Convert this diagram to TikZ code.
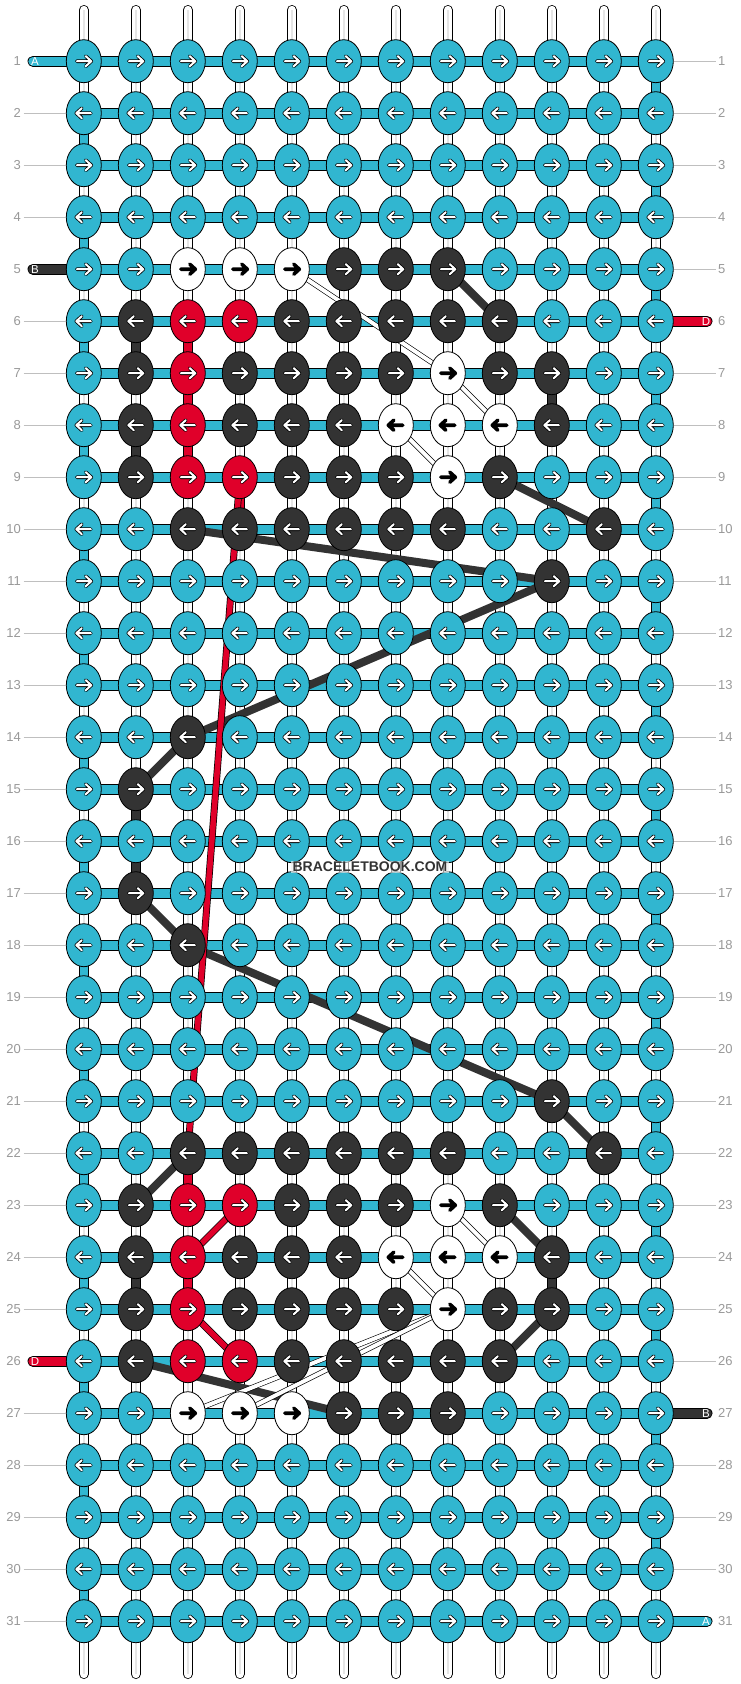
\documentclass[tikz,border=0pt]{standalone}
\usepackage{fontspec}
\setmainfont{Liberation Sans}
\usetikzlibrary{shapes.geometric}

\definecolor{bl}{HTML}{31B6D0}
\definecolor{dk}{HTML}{333333}
\definecolor{rd}{HTML}{E0002A}
\colorlet{wh}{white}
\colorlet{ar-bl}{white}
\colorlet{ar-dk}{white}
\colorlet{ar-rd}{white}
\colorlet{ar-wh}{black}
\definecolor{numgray}{HTML}{999999}

\begin{document}
\begin{tikzpicture}[x=1pt, y=-1pt,
  knot/.style={ellipse, draw, line width=0.8pt, minimum width=35pt, minimum height=43pt, inner sep=0pt},
  thread/.style={line width=0.8pt, double=#1, double distance=8.4pt, line cap=round},
  band/.style={line width=0.8pt, double=#1, double distance=9.4pt, line cap=round},
  blackstring/.style={line width=8pt, dk},
  redstring/.style={line width=0.7pt, double=rd, double distance=5.6pt},
  whitestring/.style={line width=0.6pt, double=white, double distance=4pt},
  num/.style={font=\fontsize{13}{13}\selectfont, text=numgray, inner sep=2.5pt},
  numline/.style={draw=black!25, line width=0.8pt},
  letter/.style={font=\fontsize{11.5}{11.5}\selectfont, text=white, inner sep=0pt},
  arr/.pic={
    \draw[line width=3.6pt, line cap=round, line join=round] (-7,0) -- (7.5,0) (2,-5) -- (7.5,0) -- (2,5);
    \draw[line width=2pt, line cap=round, line join=round, ar-#1] (-7,0) -- (7.5,0) (2,-5) -- (7.5,0) -- (2,5);
  }
]
\useasboundingbox[fill=white] (0,0) rectangle (740,1684);

\foreach \r in {1,...,31}
  \foreach \c in {1,...,12}
    \coordinate (p-\r-\c) at ({31.8+52*\c},{9.2+52*\r});

\foreach \c in {1,...,12} {
  \coordinate (top-\c) at ({31.8+52*\c},10);
  \coordinate (bot-\c) at ({31.8+52*\c},1674);
  \draw[thread=white] (top-\c) -- (bot-\c);
  \draw[line width=1.6pt, black!10] (top-\c) -- (bot-\c);
}

\foreach \r [evaluate=\r as \n using int(\r+1)] in {1,3,...,29}
  \draw[thread=bl] (p-\r-12) -- (p-\n-12);
\foreach \r [evaluate=\r as \n using int(\r+1)] in {2,4,...,30}
  \draw[thread=bl] (p-\r-1) -- (p-\n-1);

\foreach \r/\c/\s [evaluate=\r as \n using int(\r+1)] in {6/2/dk, 8/2/dk, 7/10/dk, 15/2/dk, 16/2/dk, 24/2/dk, 24/10/dk,
    6/3/rd, 7/3/rd, 8/3/rd, 9/4/rd, 22/3/rd, 24/3/rd}
  \draw[thread=\s] (p-\r-\c) -- (p-\n-\c);

\foreach \r in {1,...,31}
  \draw[band=bl] (p-\r-1) -- (p-\r-12);

\foreach \r/\s in {1/bl, 5/dk, 26/rd} {
  \coordinate (sl-\r) at (33,{9.2+52*\r});
  \draw[band=\s] (sl-\r) -- (p-\r-1);
}
\foreach \r/\s in {6/rd, 27/dk, 31/bl} {
  \coordinate (sr-\r) at (707,{9.2+52*\r});
  \draw[band=\s] (p-\r-12) -- (sr-\r);
}

\foreach \a/\b in {5-8/6-9, 9-9/10-11, 10-3/11-10, 11-10/14-3, 14-3/15-2, 17-2/18-3, 18-3/21-10,
    21-10/22-11, 22-3/23-2, 23-9/24-10, 25-10/26-9, 26-2/27-6}
  \draw[blackstring] (p-\a) -- (p-\b);
\foreach \a/\b in {9-4/22-3, 23-4/24-3, 25-3/26-4}
  \draw[redstring] (p-\a) -- (p-\b);
\foreach \a/\b in {5-5/7-8, 7-8/8-9, 8-7/9-8, 23-8/24-9, 24-7/25-8, 27-3/25-8, 27-4/25-8}
  \draw[whitestring] (p-\a) -- (p-\b);

\foreach \r/\cols in {
  1/{bl,bl,bl,bl,bl,bl,bl,bl,bl,bl,bl,bl},
  2/{bl,bl,bl,bl,bl,bl,bl,bl,bl,bl,bl,bl},
  3/{bl,bl,bl,bl,bl,bl,bl,bl,bl,bl,bl,bl},
  4/{bl,bl,bl,bl,bl,bl,bl,bl,bl,bl,bl,bl},
  5/{bl,bl,wh,wh,wh,dk,dk,dk,bl,bl,bl,bl},
  6/{bl,dk,rd,rd,dk,dk,dk,dk,dk,bl,bl,bl},
  7/{bl,dk,rd,dk,dk,dk,dk,wh,dk,dk,bl,bl},
  8/{bl,dk,rd,dk,dk,dk,wh,wh,wh,dk,bl,bl},
  9/{bl,dk,rd,rd,dk,dk,dk,wh,dk,bl,bl,bl},
  10/{bl,bl,dk,dk,dk,dk,dk,dk,bl,bl,dk,bl},
  11/{bl,bl,bl,bl,bl,bl,bl,bl,bl,dk,bl,bl},
  12/{bl,bl,bl,bl,bl,bl,bl,bl,bl,bl,bl,bl},
  13/{bl,bl,bl,bl,bl,bl,bl,bl,bl,bl,bl,bl},
  14/{bl,bl,dk,bl,bl,bl,bl,bl,bl,bl,bl,bl},
  15/{bl,dk,bl,bl,bl,bl,bl,bl,bl,bl,bl,bl},
  16/{bl,bl,bl,bl,bl,bl,bl,bl,bl,bl,bl,bl},
  17/{bl,dk,bl,bl,bl,bl,bl,bl,bl,bl,bl,bl},
  18/{bl,bl,dk,bl,bl,bl,bl,bl,bl,bl,bl,bl},
  19/{bl,bl,bl,bl,bl,bl,bl,bl,bl,bl,bl,bl},
  20/{bl,bl,bl,bl,bl,bl,bl,bl,bl,bl,bl,bl},
  21/{bl,bl,bl,bl,bl,bl,bl,bl,bl,dk,bl,bl},
  22/{bl,bl,dk,dk,dk,dk,dk,dk,bl,bl,dk,bl},
  23/{bl,dk,rd,rd,dk,dk,dk,wh,dk,bl,bl,bl},
  24/{bl,dk,rd,dk,dk,dk,wh,wh,wh,dk,bl,bl},
  25/{bl,dk,rd,dk,dk,dk,dk,wh,dk,dk,bl,bl},
  26/{bl,dk,rd,rd,dk,dk,dk,dk,dk,bl,bl,bl},
  27/{bl,bl,wh,wh,wh,dk,dk,dk,bl,bl,bl,bl},
  28/{bl,bl,bl,bl,bl,bl,bl,bl,bl,bl,bl,bl},
  29/{bl,bl,bl,bl,bl,bl,bl,bl,bl,bl,bl,bl},
  30/{bl,bl,bl,bl,bl,bl,bl,bl,bl,bl,bl,bl},
  31/{bl,bl,bl,bl,bl,bl,bl,bl,bl,bl,bl,bl}} {
  \pgfmathtruncatemacro\dir{1-2*mod(\r+1,2)}
  \foreach \k [count=\c] in \cols {
    \node[knot, fill=\k] (k-\r-\c) at (p-\r-\c) {};
    \pic[xscale=\dir] at (p-\r-\c) {arr=\k};
  }
}

\foreach \r in {1,...,31} {
  \node[num, anchor=east] (nl-\r) at (23.5,{9.2+52*\r}) {\r};
  \node[num, anchor=west] (nr-\r) at (715.5,{9.2+52*\r}) {\r};
}
\foreach \r in {2,3,4,6,7,...,25,27,28,...,31}
  \draw[numline] (nl-\r) -- (k-\r-1);
\foreach \r in {1,2,...,5,7,8,...,26,28,29,30}
  \draw[numline] (k-\r-12) -- (nr-\r);

\foreach \r/\t in {1/A, 5/B, 26/D}
  \node[letter] (ll-\r) at (35,{9.2+52*\r}) {\t};
\foreach \r/\t in {6/D, 27/B, 31/A}
  \node[letter] (lr-\r) at (706,{9.2+52*\r}) {\t};

\node[font=\fontsize{14}{14}\selectfont\bfseries, text=dk, fill=white, fill opacity=0.6, text opacity=1, inner sep=1.5pt] (mark) at (370,867) {BRACELETBOOK.COM};
\end{tikzpicture}
\end{document}
